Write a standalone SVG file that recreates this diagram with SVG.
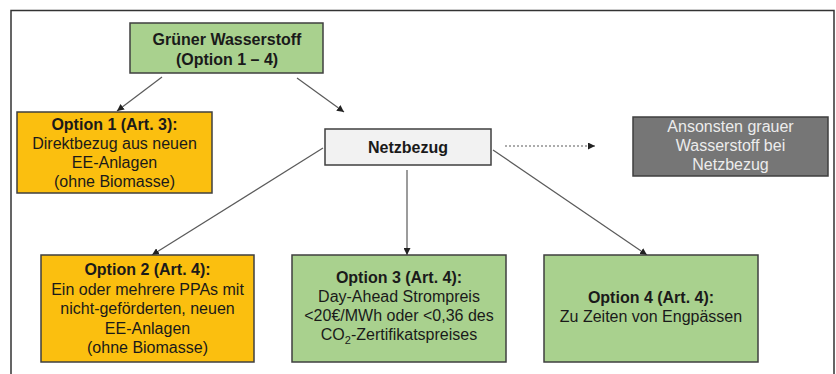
<svg xmlns="http://www.w3.org/2000/svg" width="836" height="374" viewBox="0 0 836 374">
<style>
text{font-family:"Liberation Sans",Arial,sans-serif;font-size:16px;fill:#1a1a1a;text-anchor:middle}
.b{font-weight:bold}
.box{stroke:#3f3f3f;stroke-width:1.5}
.green{fill:#a9d18e}
.orange{fill:#fbbf0f}
.conn{stroke:#5a5a5a;stroke-width:1.2;fill:none}
.gray text{fill:#ececec}
</style>
<defs>
<marker id="ah" viewBox="0 0 10 10" refX="10" refY="5" markerWidth="7" markerHeight="7" markerUnits="userSpaceOnUse" orient="auto">
<path d="M0,0 L10,5 L0,10 z" fill="#222"/>
</marker>
</defs>
<rect width="836" height="374" fill="#fff"/>
<path d="M11,374 V10.5 H834 V374" fill="none" stroke="#333" stroke-width="1.5"/>
<g id="connectors">
<line class="conn" x1="162" y1="77" x2="117" y2="111" marker-end="url(#ah)"/>
<line class="conn" x1="297" y1="78" x2="344" y2="112" marker-end="url(#ah)"/>
<line class="conn" x1="323" y1="148" x2="152" y2="255" marker-end="url(#ah)"/>
<line class="conn" x1="407" y1="170" x2="407" y2="255" marker-end="url(#ah)"/>
<line class="conn" x1="493" y1="150" x2="647" y2="255" marker-end="url(#ah)"/>
<line class="conn" x1="505" y1="146" x2="595" y2="146" stroke-dasharray="2,2" marker-end="url(#ah)"/>
</g>
<g id="gruener-wasserstoff">
<rect class="box green" x="130" y="23" width="193" height="50" stroke="#7fb060"/>
<text class="b" x="227" y="45">Grüner Wasserstoff</text>
<text class="b" x="227" y="65">(Option 1 – 4)</text>
</g>
<g id="option1">
<rect class="box orange" x="17" y="112" width="195" height="81"/>
<text class="b" x="114.5" y="130">Option 1 (Art. 3):</text>
<text x="114.5" y="149">Direktbezug aus neuen</text>
<text x="114.5" y="168">EE-Anlagen</text>
<text x="114.5" y="187">(ohne Biomasse)</text>
</g>
<g id="netzbezug">
<rect class="box" x="325" y="129" width="166" height="36" fill="#f2f2f2"/>
<text class="b" x="408" y="153">Netzbezug</text>
</g>
<g id="grauer-wasserstoff" class="gray">
<rect class="box" x="633" y="117" width="195" height="59" fill="#767676"/>
<text x="730.5" y="132">Ansonsten grauer</text>
<text x="730.5" y="151">Wasserstoff bei</text>
<text x="730.5" y="170">Netzbezug</text>
</g>
<g id="option2">
<rect class="box orange" x="41" y="255" width="213" height="107"/>
<text class="b" x="147.5" y="275">Option 2 (Art. 4):</text>
<text x="147.5" y="294.5">Ein oder mehrere PPAs mit</text>
<text x="147.5" y="314">nicht-geförderten, neuen</text>
<text x="147.5" y="333.5">EE-Anlagen</text>
<text x="147.5" y="353">(ohne Biomasse)</text>
</g>
<g id="option3">
<rect class="box green" x="292" y="255" width="214" height="107"/>
<text class="b" x="399" y="283">Option 3 (Art. 4):</text>
<text x="399" y="302">Day-Ahead Strompreis</text>
<text x="399" y="321">&lt;20€/MWh oder &lt;0,36 des</text>
<text x="399" y="340">CO<tspan font-size="11" dy="4">2</tspan><tspan dy="-4">-Zertifikatspreises</tspan></text>
</g>
<g id="option4">
<rect class="box green" x="544" y="255" width="214" height="107"/>
<text class="b" x="651" y="303">Option 4 (Art. 4):</text>
<text x="651" y="322">Zu Zeiten von Engpässen</text>
</g>
</svg>
